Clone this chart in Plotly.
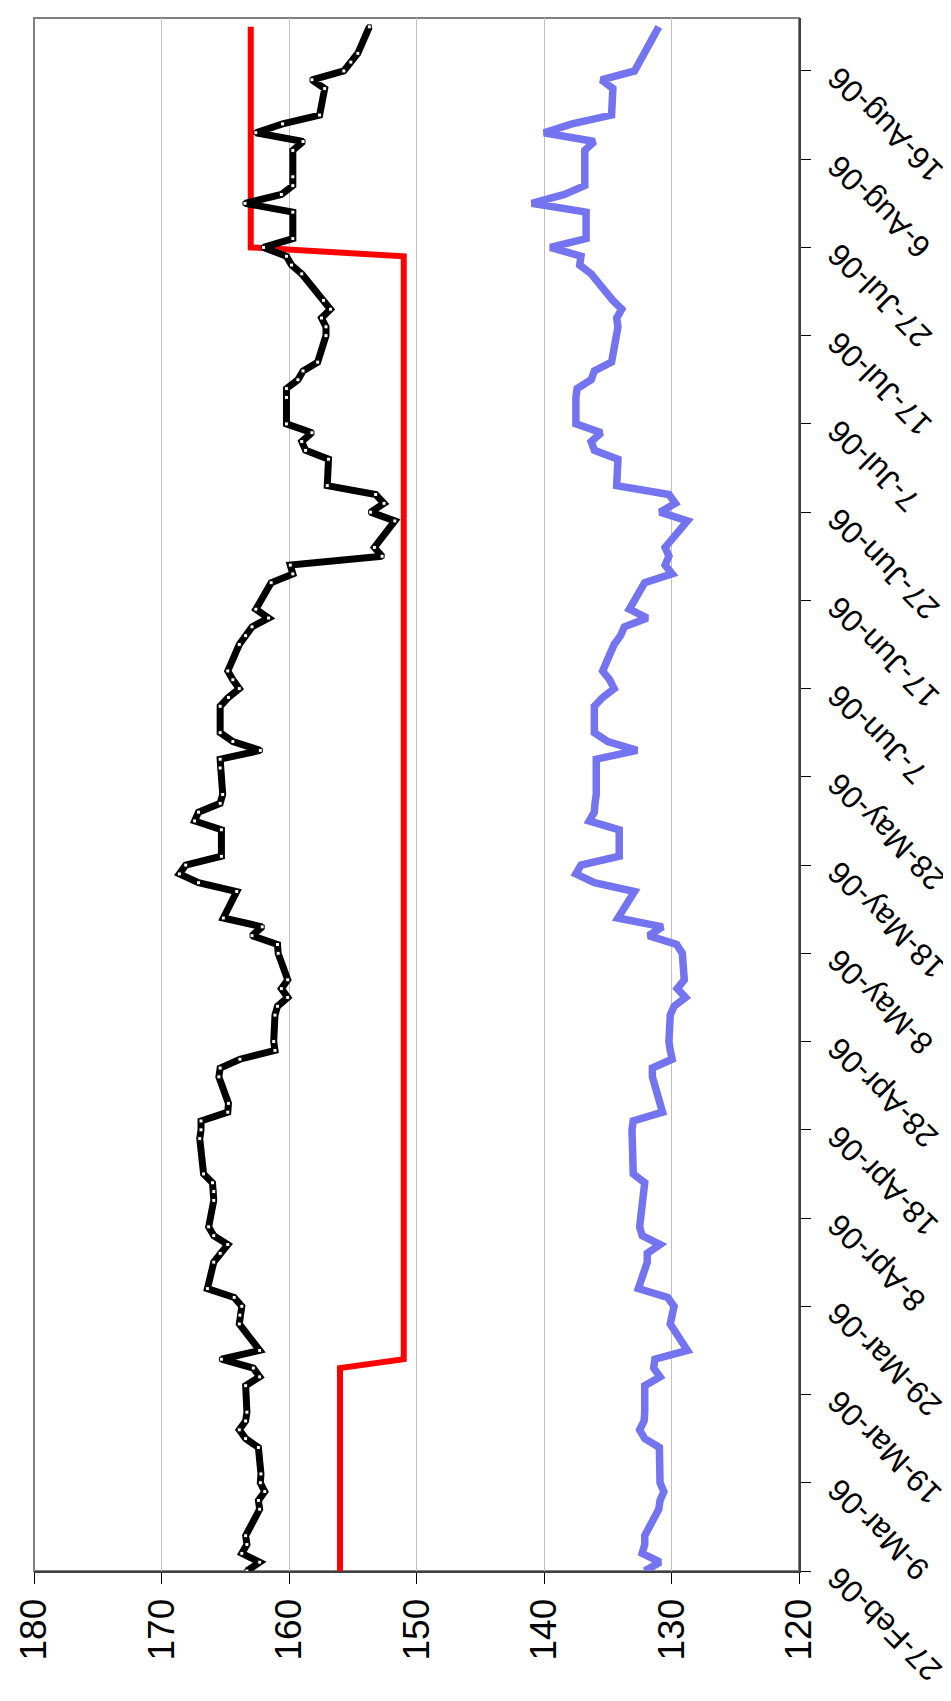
import plotly.graph_objects as go

dates = [
    "2006-02-27", "2006-02-28", "2006-03-01", "2006-03-02", "2006-03-03",
    "2006-03-06", "2006-03-07", "2006-03-08", "2006-03-09", "2006-03-10",
    "2006-03-13", "2006-03-14", "2006-03-15", "2006-03-16", "2006-03-17",
    "2006-03-20", "2006-03-21", "2006-03-22", "2006-03-23", "2006-03-24",
    "2006-03-27", "2006-03-28", "2006-03-29", "2006-03-30", "2006-03-31",
    "2006-04-03", "2006-04-04", "2006-04-05", "2006-04-06", "2006-04-07",
    "2006-04-10", "2006-04-11", "2006-04-12", "2006-04-13",
    "2006-04-17", "2006-04-18", "2006-04-19", "2006-04-20", "2006-04-21",
    "2006-04-24", "2006-04-25", "2006-04-26", "2006-04-27", "2006-04-28",
    "2006-05-01", "2006-05-02", "2006-05-03", "2006-05-04", "2006-05-05",
    "2006-05-08", "2006-05-09", "2006-05-10", "2006-05-11", "2006-05-12",
    "2006-05-15", "2006-05-16", "2006-05-17", "2006-05-18", "2006-05-19",
    "2006-05-22", "2006-05-23", "2006-05-24", "2006-05-25", "2006-05-26",
    "2006-05-29", "2006-05-30", "2006-05-31", "2006-06-01", "2006-06-02",
    "2006-06-05", "2006-06-06", "2006-06-07", "2006-06-08", "2006-06-09",
    "2006-06-12", "2006-06-13", "2006-06-14", "2006-06-15", "2006-06-16",
    "2006-06-19", "2006-06-20", "2006-06-21", "2006-06-22", "2006-06-23",
    "2006-06-26", "2006-06-27", "2006-06-28", "2006-06-29", "2006-06-30",
    "2006-07-03", "2006-07-04", "2006-07-05", "2006-07-06", "2006-07-07",
    "2006-07-10", "2006-07-11", "2006-07-12", "2006-07-13", "2006-07-14",
    "2006-07-17", "2006-07-18", "2006-07-19", "2006-07-20", "2006-07-21",
    "2006-07-24", "2006-07-25", "2006-07-26", "2006-07-27", "2006-07-28",
    "2006-07-31", "2006-08-01", "2006-08-02", "2006-08-03", "2006-08-04",
    "2006-08-07", "2006-08-08", "2006-08-09", "2006-08-10", "2006-08-11",
    "2006-08-14", "2006-08-15", "2006-08-16", "2006-08-17", "2006-08-18",
    "2006-08-21",
]

black_values = [
    163.3, 162.3, 163.7, 163.3, 163.4,
    162.3, 162.4, 161.9, 162.25, 162.2,
    162.4, 163.4, 163.9, 163.4, 163.3,
    163.4, 162.3, 162.8, 165.3, 162.3,
    163.9, 163.85, 163.7, 164.3, 166.4,
    165.9, 165.4, 164.8, 165.9, 166.3,
    165.9, 165.9, 166.0, 166.7,
    167.0, 166.9, 166.9, 164.8, 164.75,
    165.5, 165.4, 163.85, 161.1, 161.2,
    161.1, 160.9, 160.1, 160.6, 160.1,
    160.85, 160.9, 162.9, 162.1, 165.15,
    164.1, 167.1, 168.6, 168.1, 165.3,
    165.3, 167.4, 167.1, 165.4, 165.2,
    165.4, 165.4, 162.25, 164.4, 165.4,
    165.4, 164.75, 163.9, 164.4, 164.8,
    163.9, 163.4, 162.9, 161.6, 162.6,
    161.4, 159.7, 159.9, 152.7, 153.3,
    151.7, 153.6, 152.55, 153.2, 157.0,
    156.9, 158.7, 159.0, 158.2, 160.2,
    160.2, 160.2, 159.3, 158.9, 157.75,
    157.1, 157.1, 157.45, 156.75, 157.3,
    159.0, 159.8, 160.2, 162.0, 159.7,
    159.7, 163.45, 160.6, 159.7, 159.7,
    159.7, 158.9, 162.6, 160.5, 157.6,
    157.2, 158.2, 155.7, 155.15, 154.6,
    153.7,
]

blue_values = [
    132.1, 130.9, 132.3, 132.1, 132.1,
    131.0, 130.9, 130.6, 130.9, 130.9,
    130.95, 132.1, 132.5, 132.15, 132.1,
    132.1, 130.9, 131.4, 131.3, 128.75,
    130.1, 129.95, 129.8, 130.3, 132.6,
    131.9, 131.9, 130.9, 132.3, 132.5,
    132.2, 132.1, 132.1, 133.0,
    133.1, 133.1, 133.0, 130.7, 130.9,
    131.5, 131.5, 129.95, 130.1, 130.2,
    130.1, 129.8, 128.9, 129.55, 129.0,
    129.15, 129.6, 131.8, 130.7, 134.2,
    132.9, 136.05, 137.5, 137.1, 134.1,
    134.1, 136.45, 136.05, 136.0, 135.9,
    135.9, 135.9, 132.7, 135.0, 136.05,
    136.05, 135.4, 134.5, 134.85, 135.4,
    134.5, 134.0, 133.7, 131.9, 133.3,
    132.1, 129.95, 130.5, 130.2, 130.5,
    128.75, 130.9, 129.7, 130.2, 134.3,
    134.2, 136.05, 136.3, 135.5, 137.5,
    137.5, 137.4, 136.3, 136.05, 134.7,
    134.3, 134.2, 134.3, 133.9, 134.6,
    136.3, 137.2, 137.1, 139.5, 136.7,
    136.7, 140.96, 138.4, 136.8, 136.8,
    136.8, 136.05, 140.0, 137.8, 134.7,
    134.6, 135.5, 132.9, 132.5, 132.1,
    131.0,
]

red_dates = ["2006-02-27", "2006-03-22", "2006-03-23", "2006-07-26", "2006-07-27", "2006-08-21"]
red_values = [156, 156, 151, 151, 163, 163]

value_ticks = [180, 170, 160, 150, 140, 130, 120]

date_ticks = [
    "2006-02-27", "2006-03-09", "2006-03-19", "2006-03-29", "2006-04-08", "2006-04-18",
    "2006-04-28", "2006-05-08", "2006-05-18", "2006-05-28", "2006-06-07", "2006-06-17",
    "2006-06-27", "2006-07-07", "2006-07-17", "2006-07-27", "2006-08-06", "2006-08-16",
]
date_tick_labels = [
    "27-Feb-06", "9-Mar-06", "19-Mar-06", "29-Mar-06", "8-Apr-06", "18-Apr-06",
    "28-Apr-06", "8-May-06", "18-May-06", "28-May-06", "7-Jun-06", "17-Jun-06",
    "27-Jun-06", "7-Jul-06", "17-Jul-06", "27-Jul-06", "6-Aug-06", "16-Aug-06",
]

FONT = "Liberation Sans, Arial, sans-serif"

fig = go.Figure()
fig.add_trace(go.Scatter(
    x=red_values, y=red_dates, mode="lines",
    line=dict(color="#FF0000", width=6), showlegend=False,
))
fig.add_trace(go.Scatter(
    x=blue_values, y=dates, mode="lines",
    line=dict(color="#7474F0", width=7.5), showlegend=False,
))
fig.add_trace(go.Scatter(
    x=black_values, y=dates, mode="lines+markers",
    line=dict(color="black", width=7),
    marker=dict(symbol="square", size=4, color="white", line=dict(color="black", width=1)),
    showlegend=False,
))

fig.update_layout(
    width=951, height=1701,
    margin=dict(l=26, r=160, t=10, b=138, autoexpand=False),
    paper_bgcolor="white", plot_bgcolor="white",
    font=dict(family=FONT, color="black"),
    showlegend=False,
    xaxis=dict(
        range=[180, 120], tickvals=value_ticks, automargin=False,
        tickangle=-90, tickfont=dict(size=37, family=FONT, color="black"),
        showgrid=True, gridcolor="#C0C0C0", gridwidth=1,
        zeroline=False, ticks="outside", ticklen=11, tickcolor="black", tickwidth=1,
        showline=True, linecolor="#404040", linewidth=2,
    ),
    yaxis=dict(
        type="date", side="right", automargin=False,
        range=["2006-02-27", "2006-08-22"],
        tickvals=date_ticks, ticktext=date_tick_labels,
        tickangle=-135, tickfont=dict(size=31.5, family=FONT, color="black"),
        ticklabelposition="inside", ticklabeloverflow="allow",
        ticklabelstandoff=-43, ticklabelshift=10,
        showgrid=False, zeroline=False,
        ticks="outside", ticklen=10, tickcolor="black", tickwidth=1,
        showline=True, linecolor="#404040", linewidth=2,
    ),
    shapes=[dict(
        type="rect", xref="paper", yref="paper", x0=0, x1=1, y0=0, y1=1,
        line=dict(color="#808080", width=2), layer="below",
    )],
)

fig.write_html("out.html")
